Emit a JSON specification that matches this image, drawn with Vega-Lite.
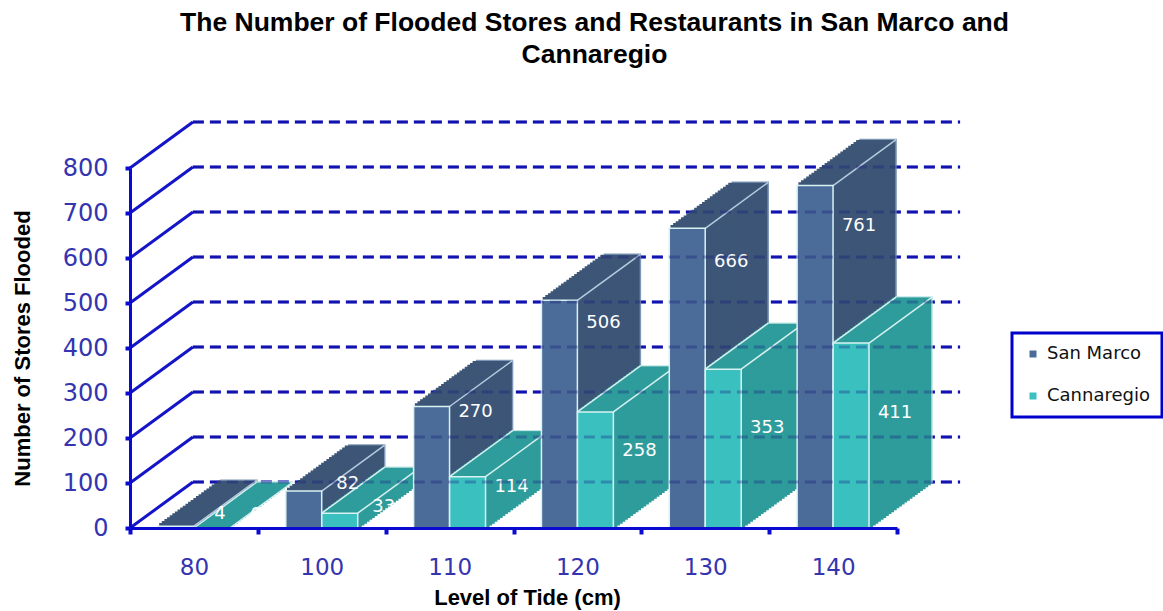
{
  "$schema": "https://vega.github.io/schema/vega-lite/v6.json",
  "width": 767,
  "height": 360,
  "autosize": {"type": "none"},
  "padding": {"left": 130, "top": 168, "right": 266, "bottom": 83},
  "title": {
    "text": ["The Number of Flooded Stores and Restaurants in San Marco and", "Cannaregio"],
    "font": "Liberation Sans", "fontSize": 26.5, "fontWeight": "bold", "lineHeight": 32,
    "anchor": "middle", "dx": 81, "offset": 52, "color": "#000000"
  },
  "datasets": {
    "stores": [
      {"tide": 80, "series": "San Marco", "stores": 4},
      {"tide": 80, "series": "Cannaregio", "stores": 0},
      {"tide": 100, "series": "San Marco", "stores": 82},
      {"tide": 100, "series": "Cannaregio", "stores": 33},
      {"tide": 110, "series": "San Marco", "stores": 270},
      {"tide": 110, "series": "Cannaregio", "stores": 114},
      {"tide": 120, "series": "San Marco", "stores": 506},
      {"tide": 120, "series": "Cannaregio", "stores": 258},
      {"tide": 130, "series": "San Marco", "stores": 666},
      {"tide": 130, "series": "Cannaregio", "stores": 353},
      {"tide": 140, "series": "San Marco", "stores": 761},
      {"tide": 140, "series": "Cannaregio", "stores": 411}
    ],
    "grid": [{"v": 0}, {"v": 100}, {"v": 200}, {"v": 300}, {"v": 400}, {"v": 500}, {"v": 600}, {"v": 700}, {"v": 800}]
  },
  "resolve": {"scale": {"y": "independent"}},
  "layer": [
    {
      "data": {"name": "grid"},
      "layer": [
        {
          "mark": {"type": "rule", "x2Offset": 127, "yOffset": -46, "y2Offset": -46, "strokeDash": [11, 6], "strokeWidth": 3, "color": "#1414c8"},
          "encoding": {
            "x": {"datum": 80, "type": "ordinal", "bandPosition": 0.492},
            "x2": {"datum": 140},
            "y": {"field": "v", "type": "quantitative", "scale": {"domain": [0, 800], "nice": false}, "axis": null},
            "y2": {"field": "v"}
          }
        },
        {
          "mark": {"type": "rule", "x2Offset": -1, "y2Offset": -46, "strokeWidth": 3, "color": "#1414c8"},
          "encoding": {
            "x": {"datum": 80, "type": "ordinal", "bandPosition": 0},
            "x2": {"datum": 80},
            "y": {"field": "v", "type": "quantitative", "scale": {"domain": [0, 800], "nice": false}, "axis": null},
            "y2": {"field": "v"}
          }
        }
      ]
    },
    {
      "data": {"name": "stores"},
      "transform": [{"filter": "datum.series === 'San Marco'"}],
      "encoding": {
        "x": {"field": "tide", "type": "ordinal", "title": "Level of Tide (cm)", "scale": {"paddingInner": 0, "paddingOuter": 0},
          "axis": {"tickBand": "extent", "labelAngle": 0, "labelAlign": "center", "labelPadding": 33, "titlePadding": 8, "titleFontSize": 22, "titleX": 397, "zindex": 2}},
        "y": {"field": "stores", "type": "quantitative", "title": "Number of Stores Flooded",
          "scale": {"domain": [0, 800], "nice": false},
          "axis": {"values": [0, 100, 200, 300, 400, 500, 600, 700, 800], "labelPadding": 17, "titlePadding": 28, "titleFontSize": 22, "labelFontSize": 24, "tickSize": 5, "zindex": 2}},
        "y2": {"datum": 0},
        "fill": {"value": "#3d5677"},
        "stroke": {"value": "#3d5677"}
      },
      "layer": [
        {"mark": {"type": "bar", "width": {"band": 0.281}, "strokeWidth": 1.5, "xOffset": 45, "yOffset": -46, "y2Offset": -46}, "encoding": {"stroke": {"value": "#7d97b6"}}},
        {"mark": {"type": "bar", "width": {"band": 0.281}, "strokeWidth": 2.8, "xOffset": 42.38, "yOffset": -44.08, "y2Offset": -44.08}},
        {"mark": {"type": "bar", "width": {"band": 0.281}, "strokeWidth": 2.8, "xOffset": 39.75, "yOffset": -42.17, "y2Offset": -42.17}},
        {"mark": {"type": "bar", "width": {"band": 0.281}, "strokeWidth": 2.8, "xOffset": 37.13, "yOffset": -40.25, "y2Offset": -40.25}},
        {"mark": {"type": "bar", "width": {"band": 0.281}, "strokeWidth": 2.8, "xOffset": 34.5, "yOffset": -38.33, "y2Offset": -38.33}},
        {"mark": {"type": "bar", "width": {"band": 0.281}, "strokeWidth": 2.8, "xOffset": 31.88, "yOffset": -36.42, "y2Offset": -36.42}},
        {"mark": {"type": "bar", "width": {"band": 0.281}, "strokeWidth": 2.8, "xOffset": 29.25, "yOffset": -34.5, "y2Offset": -34.5}},
        {"mark": {"type": "bar", "width": {"band": 0.281}, "strokeWidth": 2.8, "xOffset": 26.63, "yOffset": -32.58, "y2Offset": -32.58}},
        {"mark": {"type": "bar", "width": {"band": 0.281}, "strokeWidth": 2.8, "xOffset": 24, "yOffset": -30.67, "y2Offset": -30.67}},
        {"mark": {"type": "bar", "width": {"band": 0.281}, "strokeWidth": 2.8, "xOffset": 21.38, "yOffset": -28.75, "y2Offset": -28.75}},
        {"mark": {"type": "bar", "width": {"band": 0.281}, "strokeWidth": 2.8, "xOffset": 18.75, "yOffset": -26.83, "y2Offset": -26.83}},
        {"mark": {"type": "bar", "width": {"band": 0.281}, "strokeWidth": 2.8, "xOffset": 16.13, "yOffset": -24.92, "y2Offset": -24.92}},
        {"mark": {"type": "bar", "width": {"band": 0.281}, "strokeWidth": 2.8, "xOffset": 13.5, "yOffset": -23, "y2Offset": -23}},
        {"mark": {"type": "bar", "width": {"band": 0.281}, "strokeWidth": 2.8, "xOffset": 10.88, "yOffset": -21.08, "y2Offset": -21.08}},
        {"mark": {"type": "bar", "width": {"band": 0.281}, "strokeWidth": 2.8, "xOffset": 8.25, "yOffset": -19.17, "y2Offset": -19.17}},
        {"mark": {"type": "bar", "width": {"band": 0.281}, "strokeWidth": 2.8, "xOffset": 5.63, "yOffset": -17.25, "y2Offset": -17.25}},
        {"mark": {"type": "bar", "width": {"band": 0.281}, "strokeWidth": 2.8, "xOffset": 3, "yOffset": -15.33, "y2Offset": -15.33}},
        {"mark": {"type": "bar", "width": {"band": 0.281}, "strokeWidth": 2.8, "xOffset": 0.38, "yOffset": -13.42, "y2Offset": -13.42}},
        {"mark": {"type": "bar", "width": {"band": 0.281}, "strokeWidth": 2.8, "xOffset": -2.25, "yOffset": -11.5, "y2Offset": -11.5}},
        {"mark": {"type": "bar", "width": {"band": 0.281}, "strokeWidth": 2.8, "xOffset": -4.88, "yOffset": -9.58, "y2Offset": -9.58}},
        {"mark": {"type": "bar", "width": {"band": 0.281}, "strokeWidth": 2.8, "xOffset": -7.5, "yOffset": -7.67, "y2Offset": -7.67}},
        {"mark": {"type": "bar", "width": {"band": 0.281}, "strokeWidth": 2.8, "xOffset": -10.13, "yOffset": -5.75, "y2Offset": -5.75}},
        {"mark": {"type": "bar", "width": {"band": 0.281}, "strokeWidth": 2.8, "xOffset": -12.75, "yOffset": -3.83, "y2Offset": -3.83}},
        {"mark": {"type": "bar", "width": {"band": 0.281}, "strokeWidth": 2.8, "xOffset": -15.38, "yOffset": -1.92, "y2Offset": -1.92}}
      ]
    },
    {
      "data": {"name": "stores"},
      "transform": [{"filter": "datum.series === 'San Marco'"}],
      "mark": {"type": "rule", "x2Offset": 63, "y2Offset": -46, "strokeWidth": 1.5, "color": "#b7cbe0"},
      "encoding": {
        "x": {"field": "tide", "type": "ordinal", "bandPosition": 0.5, "title": "Level of Tide (cm)"},
        "x2": {"field": "tide"},
        "y": {"field": "stores", "type": "quantitative", "scale": {"domain": [0, 800], "nice": false}, "axis": null},
        "y2": {"field": "stores"}
      }
    },
    {
      "data": {"name": "stores"},
      "transform": [{"filter": "datum.series === 'Cannaregio'"}],
      "encoding": {
        "x": {"field": "tide", "type": "ordinal", "title": "Level of Tide (cm)"},
        "y": {"field": "stores", "type": "quantitative", "title": "Number of Stores Flooded", "scale": {"domain": [0, 800], "nice": false}, "axis": null},
        "y2": {"datum": 0},
        "fill": {"value": "#2f9c9c"},
        "stroke": {"value": "#2f9c9c"}
      },
      "layer": [
        {"mark": {"type": "bar", "width": {"band": 0.281}, "strokeWidth": 1.5, "xOffset": 81, "yOffset": -46, "y2Offset": -46}, "encoding": {"stroke": {"value": "#bfe6e6"}}},
        {"mark": {"type": "bar", "width": {"band": 0.281}, "strokeWidth": 2.8, "xOffset": 78.38, "yOffset": -44.08, "y2Offset": -44.08}},
        {"mark": {"type": "bar", "width": {"band": 0.281}, "strokeWidth": 2.8, "xOffset": 75.75, "yOffset": -42.17, "y2Offset": -42.17}},
        {"mark": {"type": "bar", "width": {"band": 0.281}, "strokeWidth": 2.8, "xOffset": 73.13, "yOffset": -40.25, "y2Offset": -40.25}},
        {"mark": {"type": "bar", "width": {"band": 0.281}, "strokeWidth": 2.8, "xOffset": 70.5, "yOffset": -38.33, "y2Offset": -38.33}},
        {"mark": {"type": "bar", "width": {"band": 0.281}, "strokeWidth": 2.8, "xOffset": 67.88, "yOffset": -36.42, "y2Offset": -36.42}},
        {"mark": {"type": "bar", "width": {"band": 0.281}, "strokeWidth": 2.8, "xOffset": 65.25, "yOffset": -34.5, "y2Offset": -34.5}},
        {"mark": {"type": "bar", "width": {"band": 0.281}, "strokeWidth": 2.8, "xOffset": 62.63, "yOffset": -32.58, "y2Offset": -32.58}},
        {"mark": {"type": "bar", "width": {"band": 0.281}, "strokeWidth": 2.8, "xOffset": 60, "yOffset": -30.67, "y2Offset": -30.67}},
        {"mark": {"type": "bar", "width": {"band": 0.281}, "strokeWidth": 2.8, "xOffset": 57.38, "yOffset": -28.75, "y2Offset": -28.75}},
        {"mark": {"type": "bar", "width": {"band": 0.281}, "strokeWidth": 2.8, "xOffset": 54.75, "yOffset": -26.83, "y2Offset": -26.83}},
        {"mark": {"type": "bar", "width": {"band": 0.281}, "strokeWidth": 2.8, "xOffset": 52.13, "yOffset": -24.92, "y2Offset": -24.92}},
        {"mark": {"type": "bar", "width": {"band": 0.281}, "strokeWidth": 2.8, "xOffset": 49.5, "yOffset": -23, "y2Offset": -23}},
        {"mark": {"type": "bar", "width": {"band": 0.281}, "strokeWidth": 2.8, "xOffset": 46.88, "yOffset": -21.08, "y2Offset": -21.08}},
        {"mark": {"type": "bar", "width": {"band": 0.281}, "strokeWidth": 2.8, "xOffset": 44.25, "yOffset": -19.17, "y2Offset": -19.17}},
        {"mark": {"type": "bar", "width": {"band": 0.281}, "strokeWidth": 2.8, "xOffset": 41.63, "yOffset": -17.25, "y2Offset": -17.25}},
        {"mark": {"type": "bar", "width": {"band": 0.281}, "strokeWidth": 2.8, "xOffset": 39, "yOffset": -15.33, "y2Offset": -15.33}},
        {"mark": {"type": "bar", "width": {"band": 0.281}, "strokeWidth": 2.8, "xOffset": 36.38, "yOffset": -13.42, "y2Offset": -13.42}},
        {"mark": {"type": "bar", "width": {"band": 0.281}, "strokeWidth": 2.8, "xOffset": 33.75, "yOffset": -11.5, "y2Offset": -11.5}},
        {"mark": {"type": "bar", "width": {"band": 0.281}, "strokeWidth": 2.8, "xOffset": 31.13, "yOffset": -9.58, "y2Offset": -9.58}},
        {"mark": {"type": "bar", "width": {"band": 0.281}, "strokeWidth": 2.8, "xOffset": 28.5, "yOffset": -7.67, "y2Offset": -7.67}},
        {"mark": {"type": "bar", "width": {"band": 0.281}, "strokeWidth": 2.8, "xOffset": 25.88, "yOffset": -5.75, "y2Offset": -5.75}},
        {"mark": {"type": "bar", "width": {"band": 0.281}, "strokeWidth": 2.8, "xOffset": 23.25, "yOffset": -3.83, "y2Offset": -3.83}},
        {"mark": {"type": "bar", "width": {"band": 0.281}, "strokeWidth": 2.8, "xOffset": 20.63, "yOffset": -1.92, "y2Offset": -1.92}}
      ]
    },
    {
      "data": {"name": "stores"},
      "transform": [{"filter": "datum.series === 'Cannaregio'"}],
      "encoding": {
        "x": {"field": "tide", "type": "ordinal", "bandPosition": 0.5, "title": "Level of Tide (cm)"},
        "x2": {"field": "tide"},
        "y": {"field": "stores", "type": "quantitative", "scale": {"domain": [0, 800], "nice": false}, "axis": null},
        "y2": {"field": "stores"}
      },
      "layer": [
        {"mark": {"type": "rule", "x2Offset": 63, "y2Offset": -46, "strokeWidth": 1.5, "color": "#d6f0f0"}},
        {"mark": {"type": "rule", "xOffset": 36, "x2Offset": 99, "y2Offset": -46, "strokeWidth": 1.5, "color": "#d6f0f0"}}
      ]
    },
    {
      "data": {"name": "stores"},
      "encoding": {
        "x": {"field": "tide", "type": "ordinal", "title": "Level of Tide (cm)"},
        "y": {"field": "stores", "type": "quantitative", "title": "Number of Stores Flooded", "scale": {"domain": [0, 800], "nice": false}, "axis": null},
        "y2": {"datum": 0},
        "fill": {"field": "series", "type": "nominal",
          "scale": {"domain": ["San Marco", "Cannaregio"], "range": ["#4b6c98", "#3bc0c0"]},
          "legend": {"orient": "none", "legendX": 882, "legendY": 165, "title": null, "symbolType": "square", "symbolSize": 49, "symbolStrokeWidth": 0, "labelFont": "DejaVu Sans", "labelFontSize": 18, "labelColor": "#111111", "labelOffset": 5, "rowPadding": 24, "padding": 12, "strokeColor": "#0000cc", "fillColor": "#ffffff"}},
        "stroke": {"value": "#d9f2f2"}
      },
      "layer": [
        {"transform": [{"filter": "datum.series === 'San Marco'"}], "mark": {"type": "bar", "width": {"band": 0.281}, "strokeWidth": 1.5, "xOffset": -18}},
        {"transform": [{"filter": "datum.series === 'Cannaregio'"}], "mark": {"type": "bar", "width": {"band": 0.281}, "strokeWidth": 1.5, "xOffset": 18}}
      ]
    },
    {
      "data": {"name": "stores"},
      "transform": [{"filter": "datum.series === 'San Marco'"}],
      "mark": {"type": "text", "dx": 26, "color": "#ffffff", "font": "DejaVu Sans", "fontSize": 18, "baseline": "middle"},
      "encoding": {
        "x": {"field": "tide", "type": "ordinal", "title": "Level of Tide (cm)"},
        "y": {"field": "stores", "type": "quantitative", "scale": {"domain": [-34, 913], "nice": false, "zero": false}, "axis": null},
        "text": {"field": "stores", "type": "quantitative"}
      }
    },
    {
      "data": {"name": "stores"},
      "transform": [{"filter": "datum.series === 'Cannaregio'"}],
      "mark": {"type": "text", "dx": 62, "color": "#ffffff", "font": "DejaVu Sans", "fontSize": 18, "baseline": "middle"},
      "encoding": {
        "x": {"field": "tide", "type": "ordinal", "title": "Level of Tide (cm)"},
        "y": {"field": "stores", "type": "quantitative", "scale": {"domain": [-52, 1400], "nice": false, "zero": false}, "axis": null},
        "text": {"field": "stores", "type": "quantitative"}
      }
    },
    {
      "data": {"name": "grid"},
      "mark": {"type": "rule", "x2Offset": 127, "yOffset": -46, "y2Offset": -46, "strokeDash": [11, 6], "strokeWidth": 3, "color": "#10107a", "opacity": 0.3},
      "encoding": {
        "x": {"datum": 80, "type": "ordinal", "bandPosition": 0.492},
        "x2": {"datum": 140},
        "y": {"field": "v", "type": "quantitative", "scale": {"domain": [0, 800], "nice": false}, "axis": null},
        "y2": {"field": "v"}
      }
    }
  ],
  "config": {
    "view": {"stroke": null},
    "axis": {
      "labelFont": "DejaVu Sans", "labelFontSize": 23, "labelColor": "#3434b0",
      "domainColor": "#0a0ad0", "domainWidth": 3, "tickColor": "#0a0ad0", "tickWidth": 4, "tickSize": 6,
      "titleFont": "Liberation Sans", "titleFontWeight": "bold", "titleFontSize": 22, "titleColor": "#000000", "grid": false
    },
    "legend": {"strokeColor": "#0000cc", "strokeWidth": 3}
  }
}
